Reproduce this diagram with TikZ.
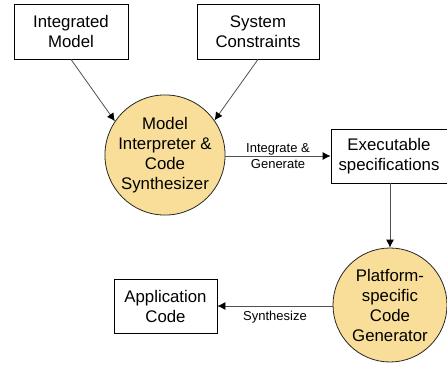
\documentclass[tikz,border=0pt]{standalone}
\usepackage{fontspec}
\setmainfont{Liberation Sans}
\usetikzlibrary{arrows.meta}
\usetikzlibrary{positioning}
\definecolor{mgold}{RGB}{248, 222, 152}
\definecolor{mline}{RGB}{80, 80, 80}
\tikzset{box/.style = {draw, thick, fill=white, align=center, inner sep=0pt,
                       font=\fontsize{16.8}{20}\selectfont}}
\tikzset{proc/.style = {circle, draw=black!85, thick, fill=mgold, align=center, inner sep=0pt,
                        minimum size=114pt, font=\fontsize{16.8}{20}\selectfont}}
\tikzset{flow/.style = {draw=mline, thick, -{Latex[black, length=8pt, width=8pt]}}}
\tikzset{lbl/.style = {font=\fontsize{13}{16}\selectfont, align=center}}

\begin{document}
\begin{tikzpicture}[x=1pt, y=-1pt]
    \useasboundingbox (0, 0) rectangle (447, 366);

    \node [box, minimum width=114pt, minimum height=55pt] (intmodel) at (71, 31.5) {Integrated\\Model};
    \node [box, minimum width=122pt, minimum height=55pt] (sysconst) at (258, 31.5) {System\\Constraints};
    \node [proc] (interp) at (165, 155) {Model\\Interpreter \&\\Code\\Synthesizer};
    \node [box, minimum width=116pt, minimum height=54pt] (execspec) at (389, 156) {Executable\\specifications};
    \node [proc] (platgen) at (390, 305) {Platform-\\specific\\Code\\Generator};
    \node [box, minimum width=103pt, minimum height=54pt] (appcode) at (165.5, 306) {Application\\Code};

    \draw [flow] (intmodel.south) -- (interp.146);
    \draw [flow] (sysconst.south) -- (interp.35);
    \draw [flow] (interp.east |- execspec.west) -- (execspec.west)
        node [lbl, pos=0.5] {Integrate \&\\Generate};
    \draw [flow] (execspec.south -| platgen.north) -- (platgen.north);
    \draw [flow] (platgen.west |- appcode.east) -- (appcode.east)
        node [lbl, pos=0.5, below=1pt] {Synthesize};
\end{tikzpicture}
\end{document}
